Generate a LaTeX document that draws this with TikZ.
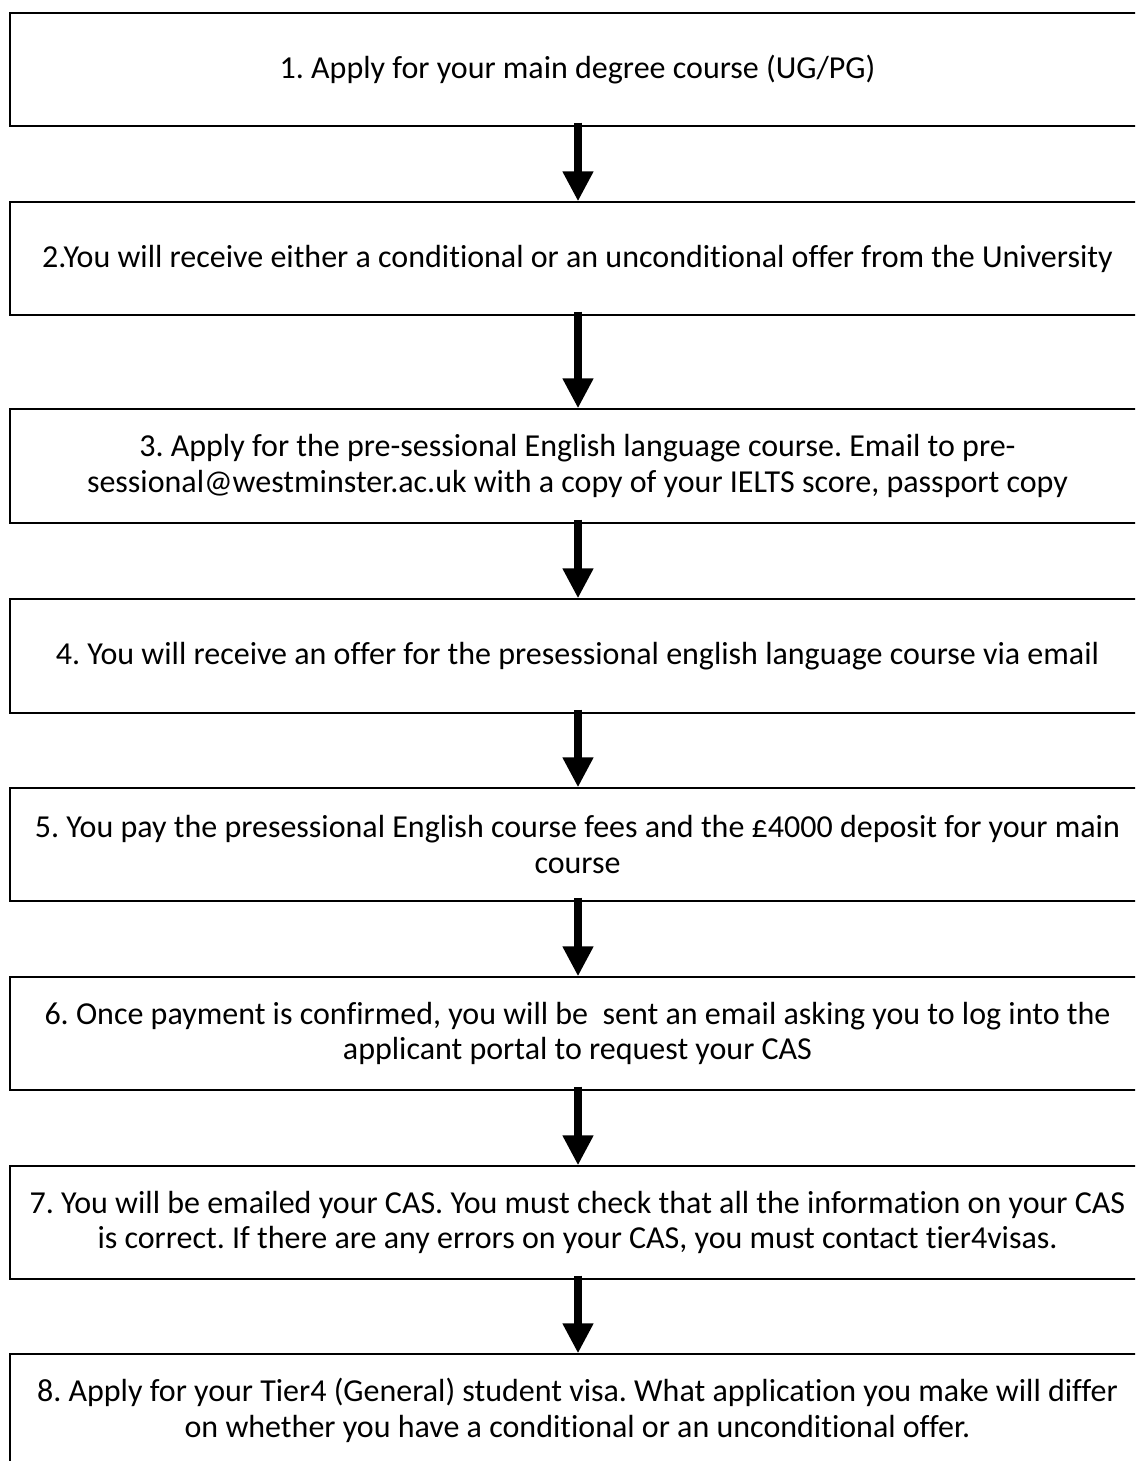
\documentclass[tikz,border=0pt]{standalone}
\usepackage{fontspec}
\setmainfont{Carlito}[Ligatures=NoCommon]
\usetikzlibrary{arrows.meta}
\frenchspacing
\begin{document}
\begin{tikzpicture}[x=1pt,y=-1pt,
  stepbox/.style={draw=black,line width=1.3pt,rectangle,minimum width=1135pt,minimum height=113pt,
    inner sep=0pt,align=center,font=\fontsize{32}{35.5}\selectfont},
  flowarrow/.style={line width=8pt,-{Triangle[length=30pt,width=29pt]}}]
\useasboundingbox (0,0) rectangle (1135,1461);
\clip (0,0) rectangle (1135,1461);
\fill[white] (0,0) rectangle (1135,1461);
\node[stepbox] (b1) at (577.5,69.5) {1. Apply for your main degree course (UG/PG)};
\node[stepbox] (b2) at (577.5,258.5) {2.You will receive either a conditional or an unconditional offer from the University};
\node[stepbox,minimum height=114pt] (b3) at (577.5,466) {3. Apply for the pre-sessional English language course. Email to pre-\\sessional@westminster.ac.uk with a copy of your IELTS score, passport copy};
\node[stepbox,minimum height=114pt] (b4) at (577.5,656) {4. You will receive an offer for the presessional english language course via email};
\node[stepbox] (b5) at (577.5,844.5) {5. You pay the presessional English course fees and the £4000 deposit for your main\\course};
\node[stepbox] (b6) at (577.5,1033.5) {6. Once payment is confirmed, you will be~ sent an email asking you to log into the\\applicant portal to request your CAS};
\node[stepbox] (b7) at (577.5,1222.5) {7. You will be emailed your CAS. You must check that all the information on your CAS\\is correct. If there are any errors on your CAS, you must contact tier4visas.};
\node[stepbox] (b8) at (577.5,1410.5) {8. Apply for your Tier4 (General) student visa. What application you make will differ\\on whether you have a conditional or an unconditional offer.};
\foreach \a/\b in {b1/b2,b2/b3,b3/b4,b4/b5,b5/b6,b6/b7,b7/b8}
  \draw[flowarrow] ([xshift=0.5pt,yshift=4pt]\a.south) -- ([xshift=0.5pt]\b.north);
\end{tikzpicture}
\end{document}
